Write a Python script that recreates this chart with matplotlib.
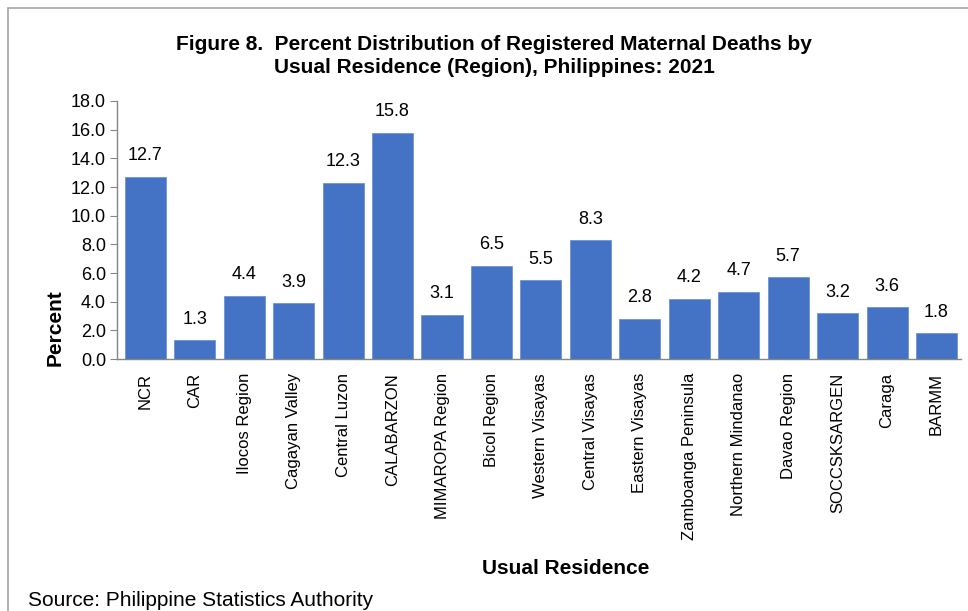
import matplotlib.pyplot as plt
from matplotlib.patches import Rectangle

plt.rcParams['font.family'] = ['Liberation Sans', 'DejaVu Sans']

regions = ["NCR", "CAR", "Ilocos Region", "Cagayan Valley", "Central Luzon",
           "CALABARZON", "MIMAROPA Region", "Bicol Region", "Western Visayas",
           "Central Visayas", "Eastern Visayas", "Zamboanga Peninsula",
           "Northern Mindanao", "Davao Region", "SOCCSKSARGEN", "Caraga", "BARMM"]
percent = [12.7, 1.3, 4.4, 3.9, 12.3, 15.8, 3.1, 6.5, 5.5,
           8.3, 2.8, 4.2, 4.7, 5.7, 3.2, 3.6, 1.8]
yticks = [0, 2, 4, 6, 8, 10, 12, 14, 16, 18]

fig = plt.figure(figsize=(9.68, 6.11), dpi=100)
ax = fig.add_axes([0.121, 0.4124, 0.872, 0.4223])

# chart frame (runs off the right and bottom edges)
fig.patches.append(Rectangle((8 / 968, -0.05), 1.2, 1.05 - 8 / 611,
                             transform=fig.transFigure, fill=False,
                             edgecolor='#a6a6a6', linewidth=1.2, zorder=0))

x = range(len(regions))
ax.bar(x, percent, width=0.83, color='#4472C4', edgecolor='#6f93d6', linewidth=0.6)
for i, v in enumerate(percent):
    ax.annotate(f"{v:.1f}", (i, v), xytext=(0, 9), textcoords='offset points',
                ha='center', va='bottom', fontsize=13)

ax.set_xlim(-0.57, len(regions) - 0.5)
ax.set_ylim(0, 18)
ax.set_yticks(yticks)
ax.set_yticklabels([f"{t:.1f}" for t in yticks], fontsize=13)
ax.set_xticks(list(x))
ax.set_xticklabels(regions, rotation=90, fontsize=12)
ax.tick_params(axis='x', length=0, pad=10)
ax.tick_params(axis='y', length=5, color='#868686', pad=3)

for side in ['top', 'right']:
    ax.spines[side].set_visible(False)
for side in ['left', 'bottom']:
    ax.spines[side].set_color('#868686')
    ax.spines[side].set_linewidth(1.0)

fig.text(494 / 968, 1 - 56 / 611,
         "Figure 8.  Percent Distribution of Registered Maternal Deaths by\n"
         "Usual Residence (Region), Philippines: 2021",
         ha='center', va='center', fontsize=15, fontweight='bold', linespacing=1.3)
fig.text(55 / 968, 1 - 328 / 611, "Percent", rotation=90, ha='center', va='center',
         fontsize=15, fontweight='bold')
fig.text(566 / 968, 1 - 568 / 611, "Usual Residence", ha='center', va='center',
         fontsize=15, fontweight='bold')
fig.text(28 / 968, 1 - 600 / 611, "Source: Philippine Statistics Authority",
         ha='left', va='center', fontsize=15)

fig.savefig("out.png", dpi=100)
